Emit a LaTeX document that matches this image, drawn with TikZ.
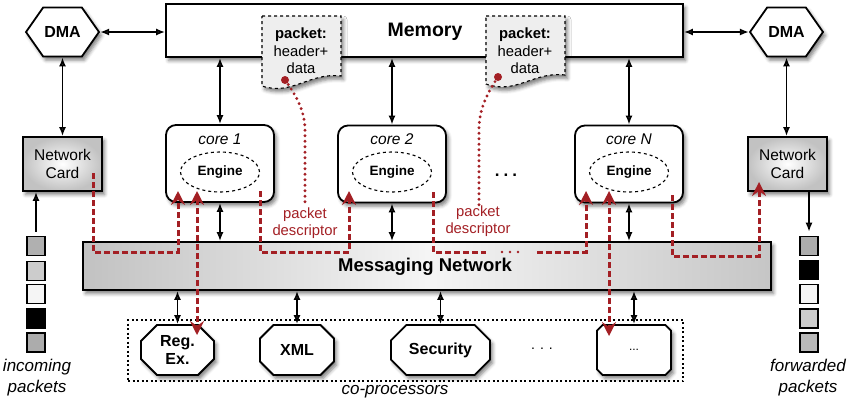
\documentclass[tikz,border=0pt]{standalone}
\usepackage{fontspec}
\setmainfont{Liberation Sans}
\usetikzlibrary{arrows.meta,shapes.misc,shapes.symbols,shapes.geometric,shadows.blur,calc}
\definecolor{dred}{HTML}{A31F24}
\begin{document}
\begin{tikzpicture}[x=1pt,y=-1pt,
  every node/.style={font=\fontsize{15}{17}\selectfont, align=center, inner sep=0pt},
  shad/.style={blur shadow={shadow xshift=2.5pt,shadow yshift=-3.5pt,shadow blur radius=3.5pt,shadow opacity=50}},
  dmabox/.style={shape=signal, signal to=west and east, signal pointer angle=110, draw, line width=1.8pt,
    fill=white, minimum width=73pt, minimum height=49pt, font=\bfseries\fontsize{16}{18}\selectfont, shad},
  membox/.style={draw, line width=1.8pt, fill=white, minimum width=517pt, minimum height=53pt, shad},
  memtext/.style={font=\bfseries\fontsize{19.5}{22}\selectfont},
  notebox/.style={draw, dashed, line width=1.1pt, fill=gray!13, shad},
  notetext/.style={font=\fontsize{14.8}{17.5}\selectfont},
  netbox/.style={draw, line width=1.8pt, inner color=white, outer color=gray!48, minimum width=79pt,
    minimum height=54pt, font=\fontsize{15.5}{18}\selectfont, shad},
  corebox/.style={draw, line width=1.8pt, fill=white, rounded corners=10pt, minimum width=108pt,
    minimum height=77pt, shad},
  corelabel/.style={font=\itshape\fontsize{15.5}{17}\selectfont},
  engine/.style={ellipse, draw, dashed, line width=1.1pt, minimum width=79pt, minimum height=40pt,
    font=\bfseries\fontsize{13.5}{15}\selectfont},
  msgbox/.style={draw, line width=1.8pt, shading=axis, left color=gray!48, right color=gray!45,
    middle color=gray!8, minimum width=688pt, minimum height=48pt, shad},
  msgtext/.style={font=\bfseries\fontsize{18.5}{21}\selectfont},
  copbox/.style={chamfered rectangle, chamfered rectangle xsep=8pt, chamfered rectangle ysep=8pt,
    draw, line width=1.8pt, fill=white, minimum height=50pt, font=\bfseries\fontsize{16}{18}\selectfont, shad},
  copframe/.style={draw, line width=1.4pt, dash pattern=on 2pt off 2.5pt, minimum width=555pt, minimum height=61pt},
  pkt/.style={draw, line width=1.6pt, minimum width=18pt, minimum height=19pt},
  caption/.style={font=\itshape\fontsize{17}{21}\selectfont},
  biarrow/.style={line width=1.6pt, {Latex[length=9pt,width=7pt]}-{Latex[length=9pt,width=7pt]}},
  onearrow/.style={line width=1.6pt, -{Latex[length=9pt,width=7pt]}},
  reddash/.style={draw=dred, line width=3pt, dash pattern=on 6pt off 3pt},
  redpath/.style={reddash, -{Stealth[length=14pt,width=14pt,inset=5pt]}},
  redbi/.style={reddash, {Stealth[length=14pt,width=14pt,inset=5pt]}-{Stealth[length=14pt,width=14pt,inset=5pt]}},
  reddot/.style={draw=dred, line width=3.2pt, dash pattern=on 0pt off 5.5pt, line cap=round},
  redlabel/.style={text=dred, font=\fontsize{14.8}{16.5}\selectfont}
]
\useasboundingbox (0,0) rectangle (850,405);

% memory and notes
\node[membox] (mem) at (424.5,30.5) {};
\node[memtext] (memlab) at (425,32) {Memory};
\draw[notebox] (262,16) -- (341,16) -- (341,76) .. controls (310,72) and (292,96) .. (262,86) -- cycle;
\node[notetext] (note1) at (301,51) {\textbf{packet:}\\header+\\data};
\draw[notebox] (486,16) -- (565,16) -- (565,75) .. controls (534,71) and (516,95) .. (486,84) -- cycle;
\node[notetext] (note2) at (525,51) {\textbf{packet:}\\header+\\data};

% DMA
\node[dmabox] (dmaL) at (62.5,32) {DMA};
\node[dmabox] (dmaR) at (786.5,32) {DMA};

% network cards
\node[netbox] (netL) at (62.5,164) {Network\\Card};
\node[netbox] (netR) at (787.5,164) {Network\\Card};

% cores
\node[corebox] (core1) at (220,163.5) {};
\node[corelabel] (c1l) at (220,139) {core 1};
\node[engine] (eng1) at (220,172) {Engine};
\node[corebox] (core2) at (392,164) {};
\node[corelabel] (c2l) at (392,139) {core 2};
\node[engine] (eng2) at (392,172) {Engine};
\node[corebox] (coreN) at (629,164) {};
\node[corelabel] (cNl) at (629,139) {core N};
\node[engine] (engN) at (629,172) {Engine};
\node[font=\bfseries\fontsize{17}{19}\selectfont] (cdots) at (506,175) {.\hspace{4pt}.\hspace{4pt}.};

% messaging network
\node[msgbox] (msg) at (427,266) {};
\node[msgtext] (msglab) at (425,267) {Messaging Network};

% co-processors
\node[copframe] (cop) at (405.5,350.5) {};
\node[copbox, minimum width=73pt] (regex) at (177.5,350) {Reg.\\Ex.};
\node[copbox, minimum width=74pt] (xml) at (297,350) {XML};
\node[copbox, minimum width=99pt] (sec) at (440.5,350) {Security};
\node[copbox, minimum width=74pt, font=\fontsize{12}{14}\selectfont] (more) at (634,350) {...};
\node[font=\fontsize{14}{16}\selectfont] (copdots) at (542,349) {.\hspace{5pt}.\hspace{5pt}.};
\node[caption] (coplabel) at (395,392) {co-processors};

% packets
\node[pkt, fill=gray!62] (in1) at (36,246) {};
\node[pkt, fill=gray!40] (in2) at (36,271) {};
\node[pkt, fill=gray!8]  (in3) at (36,294) {};
\node[pkt, fill=black]   (in4) at (36,318.5) {};
\node[pkt, fill=gray!65] (in5) at (36,342.5) {};
\node[caption] (inlab) at (37,378) {incoming\\packets};
\node[pkt, fill=gray!65] (out1) at (809,246) {};
\node[pkt, fill=black]   (out2) at (809,270) {};
\node[pkt, fill=gray!8]  (out3) at (809,294) {};
\node[pkt, fill=gray!40] (out4) at (809,318.5) {};
\node[pkt, fill=gray!55] (out5) at (809,342.5) {};
\node[caption] (outlab) at (808,378) {forwarded\\packets};

% black connectors
\draw[biarrow] (dmaL.east) -- (dmaL.east -| mem.west);
\draw[biarrow] (mem.east |- dmaR.west) -- (dmaR.west);
\draw[biarrow] (dmaL.south) -- (netL.north);
\draw[biarrow] (dmaR.south) -- (dmaR.south |- netR.north);
\draw[biarrow] (mem.south -| core1.north) -- (core1.north);
\draw[biarrow] (mem.south -| core2.north) -- (core2.north);
\draw[biarrow] (mem.south -| coreN.north) -- (coreN.north);
\draw[biarrow] (core1.south) -- (core1.south |- msg.north);
\draw[biarrow] (core2.south) -- (core2.south |- msg.north);
\draw[biarrow] (coreN.south) -- (coreN.south |- msg.north);
\draw[biarrow] (msg.south -| regex.north) -- (regex.north);
\draw[biarrow] (msg.south -| xml.north) -- (xml.north);
\draw[biarrow] (msg.south -| sec.north) -- (sec.north);
\draw[biarrow] (msg.south -| more.north) -- (more.north);
\draw[onearrow, shorten <=4pt] (in1.north) -- (in1.north |- netL.south);
\draw[onearrow, shorten >=4pt] (netR.south -| out1.north) -- (out1.north);

% red packet-descriptor paths
\coordinate (r1s) at (93,173);
\coordinate (r1e) at (178,191);
\draw[redpath] (r1s) |- (178,252) -- (r1e);
\coordinate (r2s) at (260,191);
\coordinate (r2e) at (349,191);
\draw[redpath] (r2s) |- (349,252) -- (r2e);
\coordinate (r3s) at (433,192);
\coordinate (r3e) at (586,191);
\draw[reddash] (r3s) |- (486,252);
\draw[draw=dred, line width=2.6pt, dash pattern=on 0pt off 8pt, line cap=round] (502,252) -- (519,252);
\draw[redpath] (537,252) -| (r3e);
\coordinate (r4s) at (672,195);
\coordinate (r4e) at (759,182);
\draw[redpath] (r4s) |- (759,256) -- (r4e);
\draw[redbi] (197,191) -- (197,335);
\draw[redbi] (609,191) -- (609,336);

% dotted pointers from packets to descriptors
\coordinate (d1) at (285,80);
\coordinate (d2) at (498,77);
\fill[dred] (d1) circle[radius=4pt];
\fill[dred] (d2) circle[radius=4pt];
\draw[reddot] (d1) .. controls (298,98) and (305,112) .. (305,132) -- (305,207);
\draw[reddot] (d2) .. controls (486,95) and (479,110) .. (479,130) -- (479,205);
\node[redlabel] (pd1) at (305,223) {packet\\descriptor};
\node[redlabel] (pd2) at (478,221) {packet\\descriptor};
\end{tikzpicture}
\end{document}
